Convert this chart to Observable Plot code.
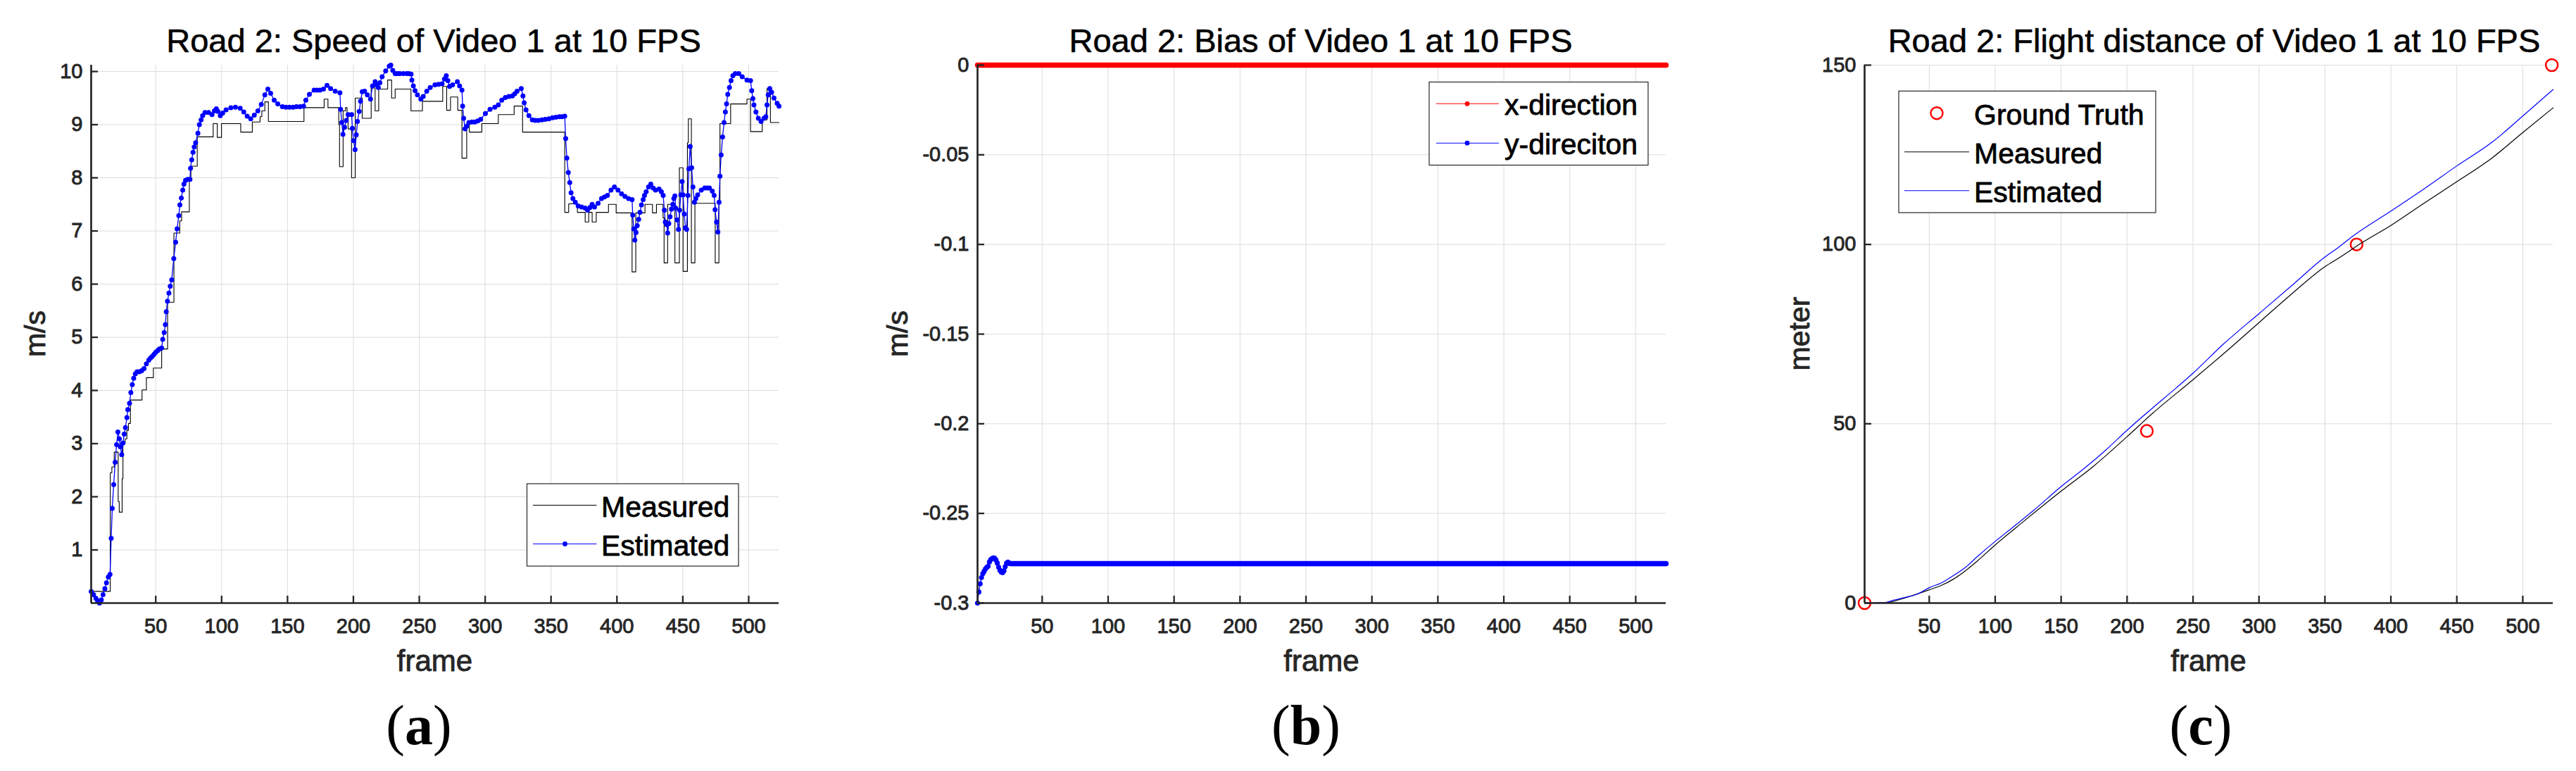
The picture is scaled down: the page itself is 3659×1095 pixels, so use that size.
<!DOCTYPE html>
<html><head><meta charset="utf-8">
<script src="https://cdn.jsdelivr.net/npm/d3@7"></script>
<script src="https://cdn.jsdelivr.net/npm/@observablehq/plot@0.6"></script>
<style>
html,body{margin:0;padding:0;background:#fff;}
#root{position:relative;width:3659px;height:1095px;overflow:hidden;background:#fff;}
.panel{position:absolute;top:0;}
#overlay{position:absolute;left:0;top:0;}
</style></head><body><div id="root"></div>
<script>
// ---------- data ----------
const frameTicks = [50,100,150,200,250,300,350,400,450,500];
const speedTicks = [1,2,3,4,5,6,7,8,9,10];
const biasTicks = [0,-0.05,-0.1,-0.15,-0.2,-0.25,-0.3];
const distTicks = [0,50,100,150];

// (a) speed, estimated [frame, m/s]
const speedEstimated = [[1,0.22],[2.8,0.16],[4.6,0.09],[5.9,0.04],[7.3,0.0],[8.7,0.06],[10,0.16],[11.4,0.27],[12.6,0.38],[14,0.49],[15.3,0.54],[16.2,1.22],[17,1.78],[18.1,2.23],[19.2,2.65],[20.3,2.98],[21.3,3.22],[22.4,3.09],[23.1,2.94],[24.2,2.79],[25.1,3.01],[26.1,3.18],[27,3.30],[28.1,3.49],[28.8,3.64],[30.1,3.76],[31.1,3.96],[32.2,4.11],[33.3,4.23],[34.5,4.31],[35.8,4.35],[37.5,4.35],[39.3,4.37],[41.1,4.41],[42.9,4.50],[44.7,4.57],[46,4.61],[47.3,4.64],[48.7,4.68],[50,4.72],[51.4,4.75],[52.7,4.78],[54.5,4.80],[55.3,4.96],[56.4,5.09],[57.3,5.24],[58,5.48],[58.9,5.68],[60,5.83],[61,5.96],[62.1,6.08],[63.7,6.48],[65.1,6.79],[66.2,7.04],[67.5,7.29],[68.3,7.49],[69.4,7.62],[70.5,7.77],[71.4,7.88],[72.6,7.95],[74.2,7.97],[76,7.97],[76.4,8.18],[77.3,8.34],[78.3,8.48],[79.2,8.58],[80.3,8.66],[82,8.84],[83.1,9.00],[84.4,9.09],[85.6,9.17],[87.4,9.23],[90.1,9.23],[92.7,9.19],[94.5,9.26],[96,9.30],[97.2,9.25],[99,9.17],[100.8,9.22],[103.4,9.28],[107,9.32],[110.5,9.33],[114.1,9.31],[116.8,9.24],[119.4,9.16],[122.1,9.11],[124.8,9.18],[127.5,9.26],[130.1,9.38],[132.8,9.56],[135.1,9.67],[137.2,9.59],[139.9,9.46],[142.6,9.39],[146.1,9.34],[148.8,9.33],[151.5,9.33],[154.2,9.33],[156.8,9.34],[159.5,9.34],[162.2,9.35],[163.9,9.46],[166.6,9.57],[170.2,9.65],[172.4,9.65],[174.6,9.65],[177.3,9.67],[180,9.74],[182.7,9.68],[186.2,9.63],[189.8,9.60],[190.3,9.29],[191.2,9.04],[192.1,8.82],[193.3,8.95],[194.6,9.08],[196,9.19],[198.7,9.19],[199.2,8.93],[200.1,8.70],[201.3,8.53],[202.2,8.81],[203.1,9.06],[204.4,9.25],[205.4,9.44],[206.7,9.62],[208.5,9.63],[210.6,9.56],[213,9.48],[214.5,9.73],[216.5,9.81],[217.4,9.75],[218.9,9.70],[220.1,9.79],[221.8,9.90],[224.5,10.01],[227.2,10.10],[228.4,10.12],[229.9,10.02],[231.7,9.96],[233.5,9.96],[235.2,9.96],[237.9,9.96],[240.5,9.96],[242,9.96],[243.8,9.95],[244.4,9.84],[245.5,9.73],[246.8,9.64],[248.6,9.56],[251.2,9.48],[253,9.53],[255.7,9.63],[258.3,9.70],[261.9,9.75],[264.6,9.76],[267.3,9.77],[269.1,9.86],[270.5,9.92],[271.7,9.83],[273,9.72],[275.3,9.75],[278.9,9.81],[280.6,9.73],[282.4,9.65],[282.9,9.35],[283.7,9.12],[284.7,8.92],[286,8.97],[287.7,9.04],[290,9.05],[292.2,9.05],[294.4,9.07],[296.6,9.10],[300.2,9.21],[303.7,9.29],[307.3,9.33],[310,9.37],[312.6,9.46],[315.3,9.51],[318,9.53],[320.6,9.54],[322.4,9.58],[324.2,9.63],[327.4,9.68],[328.7,9.54],[329.6,9.41],[331,9.28],[333.2,9.17],[335.8,9.09],[338,9.08],[340.3,9.08],[343,9.09],[345.6,9.10],[348.3,9.11],[351,9.13],[353.6,9.14],[356.3,9.15],[358.3,9.15],[360.4,9.16],[361.1,8.74],[362,8.37],[363.1,8.10],[364.2,7.91],[365.2,7.72],[366.6,7.61],[368.4,7.54],[370.6,7.47],[373.2,7.45],[375.9,7.43],[377.7,7.39],[379.5,7.44],[381.2,7.50],[383,7.45],[385.7,7.52],[388.3,7.61],[390.5,7.64],[392.8,7.67],[395.5,7.77],[398.1,7.83],[400.8,7.77],[403.5,7.70],[406.1,7.65],[408.8,7.61],[411.5,7.59],[412,7.30],[412.7,7.04],[413.6,6.83],[414.5,6.97],[415.4,7.10],[416.5,7.22],[417.5,7.35],[418.6,7.49],[419.9,7.59],[420.9,7.67],[422.2,7.74],[424,7.83],[425.7,7.88],[427.5,7.81],[429.3,7.77],[432,7.79],[433.7,7.74],[435.1,7.67],[436,7.39],[436.7,7.17],[437.8,7.12],[438.5,6.96],[439.4,7.14],[440.3,7.27],[441.4,7.41],[442.4,7.50],[443.2,7.61],[444,7.66],[444.6,7.43],[445.6,7.21],[446.7,7.03],[447.6,7.39],[448.5,7.68],[449.5,7.93],[450.2,7.68],[451.1,7.32],[452,7.06],[452.9,7.03],[453.9,7.67],[454.6,8.17],[455.6,8.59],[456.7,8.19],[457.7,7.83],[458.8,7.54],[459.9,7.61],[461.3,7.68],[464,7.77],[466.6,7.81],[468.4,7.81],[470.2,7.81],[472.4,7.75],[473.8,7.67],[474.5,7.40],[475.6,7.17],[476.6,6.98],[477.5,7.54],[478.2,8.03],[479.1,8.43],[480.2,8.77],[481.3,9.04],[482.3,9.24],[483.2,9.39],[484.1,9.57],[485.4,9.70],[486.6,9.83],[488,9.92],[489.8,9.96],[492.5,9.96],[495.1,9.90],[498.7,9.84],[501.4,9.83],[502.3,9.64],[503.2,9.49],[504,9.37],[505.5,9.24],[507.3,9.12],[509.4,9.06],[511.6,9.12],[513,9.15],[513.9,9.37],[514.8,9.56],[516,9.68],[517.4,9.61],[519.2,9.50],[521.6,9.40],[523,9.35]];

// (a) speed, measured (stairs) [frame, m/s]
const speedMeasured = [[1,0.22],[15.5,2.45],[16.7,2.56],[18.5,2.84],[21.5,1.91],[22.3,1.71],[24.5,2.34],[25.1,3.01],[26.8,3.09],[28.1,3.25],[29.3,3.38],[30.8,3.82],[39.6,4.01],[42.9,4.24],[48.2,4.42],[54.5,4.78],[59,5.66],[63.8,6.96],[68.2,7.19],[69.6,7.36],[75.5,7.98],[76.7,8.22],[81.5,8.77],[93.6,9.02],[96.7,8.76],[99.9,9.02],[114.5,8.86],[123.3,9.05],[129.2,9.15],[130.5,9.26],[132.8,9.43],[135.5,9.06],[162.5,9.32],[177.8,9.48],[180.7,9.32],[188.9,9.0],[189.5,8.21],[192.2,9.26],[194,9.32],[195.2,9.21],[196,8.92],[198.6,8.0],[201.4,9.50],[206.7,9.12],[213.5,9.69],[216.5,9.26],[219.2,9.67],[226,9.84],[229,9.5],[231.7,9.67],[243.7,9.26],[252.4,9.44],[267.8,9.72],[270.8,9.27],[273.7,9.52],[279.2,9.27],[282.4,8.37],[286,9.02],[288,8.86],[297.5,9.02],[310,9.19],[322,9.35],[328.4,8.86],[360.4,7.35],[363.4,7.51],[370,7.35],[375.9,7.17],[378.6,7.35],[381.2,7.17],[384.3,7.35],[393.6,7.50],[399.4,7.34],[411.5,6.23],[414.3,7.34],[421.3,7.50],[427,7.34],[430,7.50],[435,7.25],[435.8,6.40],[438.5,7.50],[444,6.40],[447.4,8.19],[450.2,6.24],[453.5,8.66],[454.2,9.11],[456.5,6.40],[459.2,7.52],[474.6,6.40],[477.4,7.51],[478.2,9.02],[486.3,9.39],[498.7,9.48],[501.4,8.87],[510.3,9.09],[513.9,9.68],[516.5,9.04],[523,9.04]];

// (b) bias [frame, m/s]
const biasX = [[1,0],[523,0]];
const biasY = [[1,-0.3],[2,-0.2938],[3,-0.2892],[4,-0.2858],[5,-0.2836],[6,-0.2823],[7,-0.281],[8,-0.2801],[9,-0.2795],[10,-0.2771],[11,-0.2758],[12,-0.2752],[13,-0.2748],[14,-0.275],[15,-0.276],[16,-0.2777],[17,-0.28],[18,-0.2817],[19,-0.2827],[20,-0.283],[21,-0.282],[22,-0.2797],[23,-0.2778],[24,-0.2772],[25,-0.2778],[26,-0.278],[523,-0.278]];

// (c) flight distance [frame, meter]
const distGroundTruth = [[1,0],[215,48],[374,100],[522,150]];
const distMeasured = [[1,0],[17,0.1],[32,1.5],[50,3.7],[59,4.9],[68,6.6],[77,8.9],[86,11.6],[100,16.2],[121,22.6],[150,31.2],[175,38.3],[200,46.4],[219,52.8],[250,62.3],[274,69.8],[300,78.2],[326,86.6],[350,93.8],[360,96.1],[379,100.7],[400,105.3],[424,111.2],[450,117.5],[477,124.2],[500,131.2],[523,138.1]];
const distEstimated = [[1,0],[17,0.2],[23,0.8],[32,1.6],[41,2.5],[50,4.3],[59,5.6],[68,7.6],[77,9.8],[86,12.8],[100,17.2],[112,20.7],[130,26.1],[150,32.5],[166,37.1],[184,42.7],[200,48.2],[219,54.3],[237,59.9],[250,64.1],[273,72.2],[300,80.7],[326,88.9],[350,96.5],[360,99.1],[370,102.0],[400,109.3],[424,115.2],[450,121.9],[477,128.6],[500,135.8],[523,143.2]];

// ---------- drawing ----------
const FONT = '"Liberation Sans", Arial, Helvetica, sans-serif';
const INK = "#262626";
const GRID = "#dcdcdc";
const xDomain = [1, 523];
const root = document.getElementById("root");
const fx = d => d[0], fy = d => d[1];

function makePanel({left, width, mL, mR, yDomain, yTicks, yFmt, marks}) {
  const chart = Plot.plot({
    width, height: 1000, marginTop: 92, marginBottom: 144, marginLeft: mL, marginRight: mR,
    x: {domain: xDomain},
    y: {domain: yDomain},
    style: {fontFamily: FONT, fontSize: "29px", background: "transparent", overflow: "visible", color: INK},
    marks: [
      Plot.gridX(frameTicks, {stroke: GRID, strokeOpacity: 1, strokeWidth: 1}),
      Plot.gridY(yTicks, {stroke: GRID, strokeOpacity: 1, strokeWidth: 1}),
      ...marks,
      Plot.ruleX([xDomain[0]], {stroke: INK, strokeWidth: 2.7}),
      Plot.ruleY([yDomain[0]], {stroke: INK, strokeWidth: 2.7}),
      Plot.axisX(frameTicks, {anchor: "bottom", tickSize: 10, dy: -10, tickFormat: () => "", label: null, stroke: INK, strokeWidth: 2.3}),
      Plot.axisX(frameTicks, {anchor: "bottom", tickSize: 0, tickPadding: 22, label: null, fontSize: 29, fill: INK, textStroke: INK, textStrokeWidth: 0.9, tickFormat: d => String(d)}),
      Plot.axisY(yTicks, {anchor: "left", tickSize: 10, dx: 10, tickFormat: () => "", label: null, stroke: INK, strokeWidth: 2.3}),
      Plot.axisY(yTicks, {anchor: "left", tickSize: 0, tickPadding: 12, label: null, fontSize: 29, fill: INK, textStroke: INK, textStrokeWidth: 0.9, tickFormat: yFmt})
    ]
  });
  const wrap = document.createElement("div");
  wrap.className = "panel";
  wrap.style.left = left + "px";
  wrap.appendChild(chart);
  root.appendChild(wrap);
}

makePanel({
  left: 0, width: 1220, mL: 129, mR: 114, yDomain: [0, 10.12], yTicks: speedTicks, yFmt: d => String(d),
  marks: [
    Plot.line(speedMeasured, {x: fx, y: fy, curve: "step-after", stroke: "#000", strokeWidth: 1.1}),
    Plot.line(speedEstimated, {x: fx, y: fy, stroke: "#0000ff", strokeWidth: 1.3}),
    Plot.dot(speedEstimated, {x: fx, y: fy, r: 3.5, fill: "#0000ff", stroke: "none"})
  ]
});

makePanel({
  left: 1230, width: 1220, mL: 158, mR: 84, yDomain: [-0.3, 0], yTicks: biasTicks, yFmt: d => String(d),
  marks: [
    Plot.line(biasX, {x: fx, y: fy, stroke: "#ff0000", strokeWidth: 7.5, strokeLinecap: "round"}),
    Plot.line(biasY, {x: fx, y: fy, stroke: "#0000ff", strokeWidth: 1.3}),
    Plot.line(biasY.filter(d => d[0] >= 25), {x: fx, y: fy, stroke: "#0000ff", strokeWidth: 7.5, strokeLinecap: "round"}),
    Plot.dot(biasY.filter(d => d[0] <= 25), {x: fx, y: fy, r: 3.6, fill: "#0000ff", stroke: "none"})
  ]
});

makePanel({
  left: 2460, width: 1199, mL: 188, mR: 33, yDomain: [0, 150], yTicks: distTicks, yFmt: d => String(d),
  marks: [
    Plot.dot(distGroundTruth, {x: fx, y: fy, r: 8.5, stroke: "#ff0000", strokeWidth: 2.5, fill: "none"}),
    Plot.line(distMeasured, {x: fx, y: fy, curve: "monotone-x", stroke: "#000", strokeWidth: 1.2}),
    Plot.line(distEstimated, {x: fx, y: fy, curve: "monotone-x", stroke: "#0000ff", strokeWidth: 1.2})
  ]
});

// ---------- titles, labels, legends ----------
const ov = d3.select(root).append("svg").attr("id", "overlay").attr("width", 3659).attr("height", 1095)
  .attr("font-family", FONT);

function txt(x, y, s, size, {anchor = "middle", fill = "#000", sw = 0.8, rotate = 0} = {}) {
  const t = ov.append("text").attr("x", x).attr("y", y).attr("font-size", size).attr("text-anchor", anchor)
    .attr("fill", fill).attr("font-family", FONT)
    .attr("stroke", sw ? fill : "none").attr("stroke-width", sw).attr("paint-order", "stroke").attr("stroke-linejoin", "round")
    .text(s);
  if (rotate) t.attr("transform", `rotate(${rotate},${x},${y})`);
  return t;
}

const panels = [
  {title: "Road 2: Speed of Video 1 at 10 FPS", tx: 616, cx: 617.5, ylab: "m/s", ylx: 64, cap: "a", capx: 595},
  {title: "Road 2: Bias of Video 1 at 10 FPS", tx: 1876, cx: 1877, ylab: "m/s", ylx: 1289, cap: "b", capx: 1855},
  {title: "Road 2: Flight distance of Video 1 at 10 FPS", tx: 3145, cx: 3137, ylab: "meter", ylx: 2570, cap: "c", capx: 3126}
];
for (const p of panels) {
  txt(p.tx, 74, p.title, 47, {sw: 0.6});
  txt(p.cx, 953, "frame", 42, {fill: INK, sw: 0.9});
  txt(p.ylx, 474, p.ylab, 41, {fill: INK, sw: 0.9, rotate: -90});
  const c = ov.append("text").attr("x", p.capx).attr("y", 1057).attr("text-anchor", "middle")
    .attr("font-family", '"Liberation Serif", "DejaVu Serif", serif').attr("font-size", 80).attr("fill", "#000");
  c.append("tspan").text("(");
  c.append("tspan").attr("font-weight", "bold").text(p.cap);
  c.append("tspan").text(")");
}

function box(x0, y0, x1, y1) {
  ov.append("rect").attr("x", x0).attr("y", y0).attr("width", x1 - x0).attr("height", y1 - y0)
    .attr("fill", "#fff").attr("stroke", INK).attr("stroke-width", 1.2);
}
function seg(x0, x1, y, color) {
  ov.append("line").attr("x1", x0).attr("x2", x1).attr("y1", y).attr("y2", y).attr("stroke", color).attr("stroke-width", 1.1);
}
function dot(x, y, color, r = 3.4) {
  ov.append("circle").attr("cx", x).attr("cy", y).attr("r", r).attr("fill", color);
}

// legend (a)
box(748.5, 687, 1049, 804);
seg(757, 847.5, 717.5, "#000");
txt(854, 733.5, "Measured", 41, {anchor: "start"});
seg(757, 847.5, 772.5, "#0000ff"); dot(802.5, 772.5, "#0000ff");
txt(854, 788.5, "Estimated", 41, {anchor: "start"});

// legend (b)
box(2030, 116.5, 2341, 234.5);
seg(2040, 2129, 147.3, "#ff0000"); dot(2084, 147.3, "#ff0000");
txt(2137, 163.3, "x-direction", 41, {anchor: "start"});
seg(2040, 2129, 203.2, "#0000ff"); dot(2084, 203.2, "#0000ff");
txt(2137, 219.2, "y-direciton", 41, {anchor: "start"});

// legend (c)
box(2697, 129.3, 3062, 302);
ov.append("circle").attr("cx", 2751).attr("cy", 160.7).attr("r", 8.5).attr("fill", "none").attr("stroke", "#ff0000").attr("stroke-width", 2.4);
txt(2804, 176.7, "Ground Truth", 41, {anchor: "start"});
seg(2705, 2797, 215.7, "#000");
txt(2804, 231.7, "Measured", 41, {anchor: "start"});
seg(2705, 2797, 270.7, "#0000ff");
txt(2804, 286.7, "Estimated", 41, {anchor: "start"});
</script></body></html>
